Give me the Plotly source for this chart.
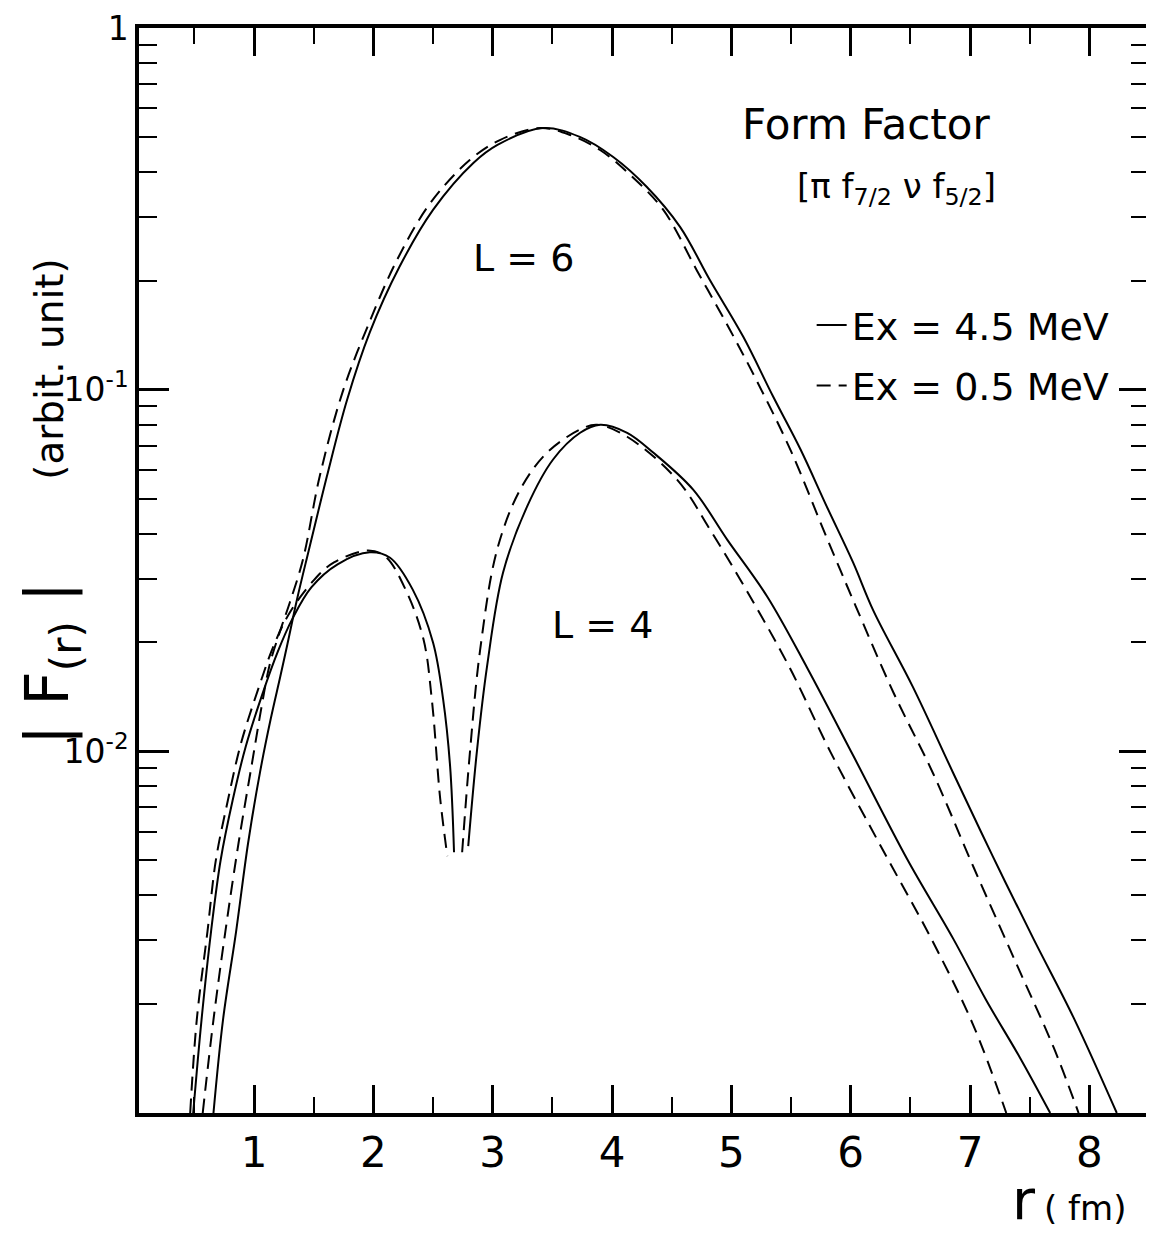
import plotly.graph_objects as go

# L = 6, Ex = 4.5 MeV (solid)
r_l6_solid = [0.66, 0.74, 0.85, 0.95, 1.05, 1.14, 1.22, 1.28, 1.36, 1.46, 1.61, 1.78, 1.97, 2.22,
              2.50, 2.84, 3.04, 3.42, 3.73, 4.01, 4.29, 4.57, 4.82, 5.10, 5.35, 5.58, 5.80, 6.02,
              6.19, 6.52, 6.86, 7.19, 7.53, 7.87, 8.23]
f_l6_solid = [1.0e-3, 1.81e-3, 3.18e-3, 5.57e-3, 8.75e-3, 1.23e-2, 1.61e-2, 1.98e-2, 2.63e-2, 3.61e-2,
              5.75e-2, 9.38e-2, 0.144, 0.219, 0.314, 0.424, 0.475, 0.529, 0.50, 0.44, 0.364, 0.282,
              0.201, 0.140, 0.0957, 0.0683, 0.0475, 0.0333, 0.0245, 0.0151, 0.0087, 0.00513,
              0.00304, 0.00183, 0.0010]

# L = 6, Ex = 0.5 MeV (dashed)
r_l6_dashed = [0.57, 0.66, 0.76, 0.87, 0.98, 1.06, 1.13, 1.22, 1.30, 1.41, 1.55, 1.74, 1.95, 2.20,
               2.48, 2.81, 3.06, 3.40, 3.65, 3.90, 4.15, 4.43, 4.71, 4.99, 5.22, 5.50, 5.80, 6.04,
               6.36, 6.69, 7.03, 7.39, 7.70, 7.91]
f_l6_dashed = [1.0e-3, 1.81e-3, 3.18e-3, 5.57e-3, 9.15e-3, 1.31e-2, 1.73e-2, 2.16e-2, 2.58e-2, 3.39e-2,
               5.75e-2, 9.8e-2, 0.149, 0.229, 0.329, 0.432, 0.49, 0.529, 0.506, 0.46, 0.393, 0.314,
               0.214, 0.146, 0.1047, 0.0676, 0.0389, 0.0253, 0.0145, 0.0087, 0.00478, 0.00258,
               0.00152, 0.0010]

# L = 4, Ex = 4.5 MeV (solid), two branches split at the node
r_l4_solid_in = [0.49, 0.56, 0.64, 0.72, 0.82, 0.93, 1.07, 1.20, 1.32, 1.48, 1.70, 1.97, 2.14, 2.33,
                 2.50, 2.585, 2.643, 2.676]
f_l4_solid_in = [1.0e-3, 1.81e-3, 3.18e-3, 5.0e-3, 7.3e-3, 1.03e-2, 1.44e-2, 1.89e-2, 2.32e-2, 2.84e-2,
                 3.29e-2, 3.55e-2, 3.43e-2, 2.80e-2, 2.00e-2, 1.39e-2, 9.1e-3, 5.26e-3]
r_l4_solid_out = [2.795, 2.869, 2.953, 3.087, 3.288, 3.506, 3.733, 3.90, 4.127, 4.345, 4.68, 4.965,
                  5.30, 5.636, 6.02, 6.474, 6.86, 7.136, 7.42, 7.672]
f_l4_solid_out = [5.47e-3, 1.01e-2, 1.72e-2, 3.12e-2, 4.75e-2, 6.41e-2, 7.60e-2, 8.0e-2, 7.60e-2, 6.70e-2,
                  5.29e-2, 3.85e-2, 2.68e-2, 1.70e-2, 9.75e-3, 5.03e-3, 3.03e-3, 2.05e-3, 1.42e-3, 1.0e-3]

# L = 4, Ex = 0.5 MeV (dashed)
r_l4_dashed_in = [0.465, 0.52, 0.61, 0.68, 0.78, 0.89, 1.03, 1.17, 1.30, 1.50, 1.67, 1.955, 2.10, 2.27,
                  2.42, 2.49, 2.56, 2.62]
f_l4_dashed_in = [1.0e-3, 1.81e-3, 3.18e-3, 5.0e-3, 7.3e-3, 1.05e-2, 1.47e-2, 1.98e-2, 2.42e-2, 2.97e-2,
                  3.33e-2, 3.59e-2, 3.46e-2, 2.80e-2, 2.04e-2, 1.39e-2, 7.4e-3, 5.13e-3]
r_l4_dashed_out = [2.744, 2.811, 2.895, 3.037, 3.23, 3.456, 3.733, 3.875, 4.127, 4.545, 4.822, 5.157,
                   5.49, 5.828, 6.248, 6.69, 7.027, 7.304]
f_l4_dashed_out = [5.26e-3, 1.01e-2, 1.91e-2, 3.61e-2, 5.29e-2, 6.70e-2, 7.76e-2, 8.0e-2, 7.41e-2,
                   5.64e-2, 4.10e-2, 2.68e-2, 1.70e-2, 1.0e-2, 5.5e-3, 2.97e-3, 1.75e-3, 1.0e-3]

x_ticks = [1, 2, 3, 4, 5, 6, 7, 8]
x_minor = [0.5, 1.5, 2.5, 3.5, 4.5, 5.5, 6.5, 7.5]
y_ticks = [1, 0.1, 0.01]
y_ticktext = ["1", "10<sup>-1</sup>", "10<sup>-2</sup>"]

FONT = "DejaVu Sans"
solid = dict(color="black", width=2)
dashed = dict(color="black", width=2, dash="14px,8px")

fig = go.Figure()

fig.add_trace(go.Scatter(x=r_l6_solid, y=f_l6_solid, mode="lines", line=solid, line_shape="spline",
                         name="Ex = 4.5 MeV", legendgroup="a"))
fig.add_trace(go.Scatter(x=r_l6_dashed, y=f_l6_dashed, mode="lines", line=dashed, line_shape="spline",
                         name="Ex = 0.5 MeV", legendgroup="b"))
fig.add_trace(go.Scatter(x=r_l4_solid_in + [None] + r_l4_solid_out,
                         y=f_l4_solid_in + [None] + f_l4_solid_out,
                         mode="lines", line=solid, line_shape="spline", connectgaps=False,
                         showlegend=False, legendgroup="a"))
fig.add_trace(go.Scatter(x=r_l4_dashed_in + [None] + r_l4_dashed_out,
                         y=f_l4_dashed_in + [None] + f_l4_dashed_out,
                         mode="lines", line=dashed, line_shape="spline", connectgaps=False,
                         showlegend=False, legendgroup="b"))

# text labels (paper coordinates, centred)
notes = [
    dict(text="Form Factor", x=0.720, y=0.911, size=42, angle=0),
    dict(text="[π f<sub>7/2</sub> ν f<sub>5/2</sub>]", x=0.750, y=0.852, size=34, angle=0),
    dict(text="L = 6", x=0.381, y=0.788, size=38, angle=0),
    dict(text="L = 4", x=0.459, y=0.450, size=38, angle=0),
    dict(text="r", x=0.876, y=-0.080, size=56, angle=0),
    dict(text="( fm)", x=0.937, y=-0.088, size=34, angle=0),
    dict(text="| F<sub>(r)</sub> |", x=-0.086, y=0.414, size=60, angle=-90),
    dict(text="(arbit. unit)", x=-0.088, y=0.686, size=39, angle=-90),
]
annotations = [dict(text=n["text"], x=n["x"], y=n["y"], xref="paper", yref="paper",
                    xanchor="center", yanchor="middle", textangle=n["angle"], showarrow=False,
                    font=dict(family=FONT, size=n["size"], color="black"))
               for n in notes]

# the page body adds an 8px margin, so the figure is sized and padded to suit
fig.update_layout(
    width=1146, height=1228,
    margin=dict(l=131, r=5, t=20, b=123, autoexpand=False),
    plot_bgcolor="white", paper_bgcolor="white",
    font=dict(family=FONT, color="black"),
    annotations=annotations,
    legend=dict(x=0.966, xanchor="right", y=0.755, yanchor="top", bgcolor="rgba(0,0,0,0)",
                font=dict(family=FONT, size=38), traceorder="grouped", tracegroupgap=8),
    xaxis=dict(range=[0.036, 8.5], tickmode="array", tickvals=x_ticks, automargin=False,
               ticks="inside", ticklen=28, tickwidth=2.5, tickcolor="black",
               showline=True, linewidth=3.5, linecolor="black", mirror="ticks",
               showgrid=False, zeroline=False, ticklabelstandoff=0,
               tickfont=dict(family=FONT, size=42),
               minor=dict(tickvals=x_minor, ticks="inside", ticklen=16, tickwidth=2,
                          tickcolor="black", showgrid=False)),
    yaxis=dict(type="log", range=[-3, 0], tickmode="array", tickvals=y_ticks, ticktext=y_ticktext,
               automargin=False, ticklabeloverflow="allow",
               ticks="inside", ticklen=30, tickwidth=2.5, tickcolor="black",
               showline=True, linewidth=3.5, linecolor="black", mirror="ticks",
               showgrid=False, zeroline=False, ticklabelstandoff=0,
               tickfont=dict(family=FONT, size=33),
               minor=dict(dtick="D1", ticks="inside", ticklen=18, tickwidth=2,
                          tickcolor="black", showgrid=False)),
)

fig.write_html("out.html")
